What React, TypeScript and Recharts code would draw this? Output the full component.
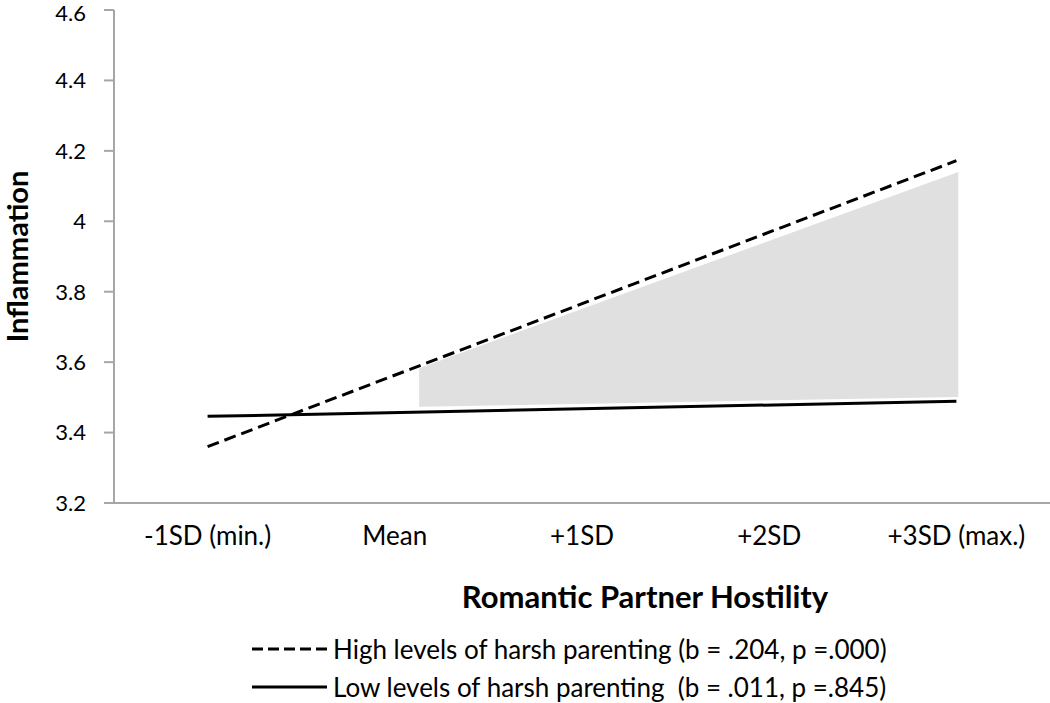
import React from "react";
import {
  ComposedChart,
  Line,
  Area,
  XAxis,
  YAxis,
  Legend,
  Label,
} from "recharts";

const CATEGORIES = ["-1SD (min.)", "Mean", "+1SD", "+2SD", "+3SD (max.)"];
const Y_TICKS = [3.2, 3.4, 3.6, 3.8, 4, 4.2, 4.4, 4.6];

// simple slopes
const highLine = [
  { x: 0, y: 3.36 },
  { x: 4, y: 4.172 },
];
const lowLine = [
  { x: 0, y: 3.446 },
  { x: 4, y: 3.489 },
];
// region of significance (shaded)
const shadeRegion = [
  { x: 1.13, range: [3.473, 3.583] },
  { x: 4.01, range: [3.501, 4.14] },
];

const LEGEND_ITEMS = [
  { label: "High levels of harsh parenting (b = .204, p =.000)", dashed: true },
  { label: "Low levels of harsh parenting  (b = .011, p =.845)", dashed: false },
];

const FONT = "Lato, 'Open Sans', sans-serif";

const renderLegend = () => (
  <div style={{ fontFamily: FONT, fontSize: 26, color: "#000" }}>
    {LEGEND_ITEMS.map((item, i) => (
      <div
        key={item.label}
        style={{
          display: "flex",
          alignItems: "center",
          height: 26,
          marginBottom: i === 0 ? 12 : 0,
          whiteSpace: "pre",
        }}
      >
        <svg width={76} height={10} style={{ marginRight: 5 }}>
          <line
            x1={0}
            y1={5}
            x2={75}
            y2={5}
            stroke="#000"
            strokeWidth={3}
            strokeDasharray={item.dashed ? "11 5" : undefined}
          />
        </svg>
        <span style={{ lineHeight: "26px" }}>{item.label}</span>
      </div>
    ))}
  </div>
);

export default function App() {
  return (
    <div style={{ position: "absolute", left: 0, top: 0, background: "#fff" }}>
      <ComposedChart
        width={1050}
        height={703}
        margin={{ top: 10, right: 0, bottom: 0, left: 0 }}
      >
        <XAxis
          type="number"
          dataKey="x"
          domain={[-0.5, 4.5]}
          ticks={[0, 1, 2, 3, 4]}
          tickFormatter={(v: number) => CATEGORIES[v]}
          tickLine={false}
          axisLine={{ stroke: "#a6a6a6", strokeWidth: 2 }}
          tick={{ fill: "#000", fontSize: 26, fontFamily: FONT }}
          tickSize={0}
          tickMargin={24}
          height={200}
        >
          <Label
            content={({ viewBox }: any) => (
              <text
                x={viewBox.x + 531}
                y={viewBox.y + 105}
                textAnchor="middle"
                fontFamily={FONT}
                fontWeight="bold"
                fontSize={31}
                fill="#000"
              >
                Romantic Partner Hostility
              </text>
            )}
          />
        </XAxis>
        <YAxis
          type="number"
          domain={[3.2, 4.6]}
          ticks={Y_TICKS}
          width={114}
          tickSize={10}
          tickMargin={18}
          axisLine={{ stroke: "#a6a6a6", strokeWidth: 2 }}
          tickLine={{ stroke: "#a6a6a6", strokeWidth: 2 }}
          tick={{ fill: "#000", fontSize: 22, fontFamily: FONT }}
        >
          <Label
            content={({ viewBox }: any) => (
              <text
                x={16}
                y={viewBox.y + viewBox.height / 2}
                transform={`rotate(-90 16 ${viewBox.y + viewBox.height / 2})`}
                textAnchor="middle"
                dominantBaseline="central"
                fontFamily={FONT}
                fontWeight="bold"
                fontSize={29}
                fill="#000"
              >
                Inflammation
              </text>
            )}
          />
        </YAxis>
        <Area
          data={shadeRegion}
          dataKey="range"
          type="linear"
          stroke="none"
          fill="#e0e0e0"
          fillOpacity={1}
          isAnimationActive={false}
          legendType="none"
        />
        <Line
          data={lowLine}
          dataKey="y"
          type="linear"
          stroke="#000"
          strokeWidth={3}
          dot={false}
          isAnimationActive={false}
        />
        <Line
          data={highLine}
          dataKey="y"
          type="linear"
          stroke="#000"
          strokeWidth={3}
          strokeDasharray="12 6"
          dot={false}
          isAnimationActive={false}
        />
        <Legend
          content={renderLegend}
          layout="horizontal"
          align="center"
          verticalAlign="middle"
          wrapperStyle={{ left: 252, top: 636, width: 760 }}
        />
      </ComposedChart>
    </div>
  );
}
